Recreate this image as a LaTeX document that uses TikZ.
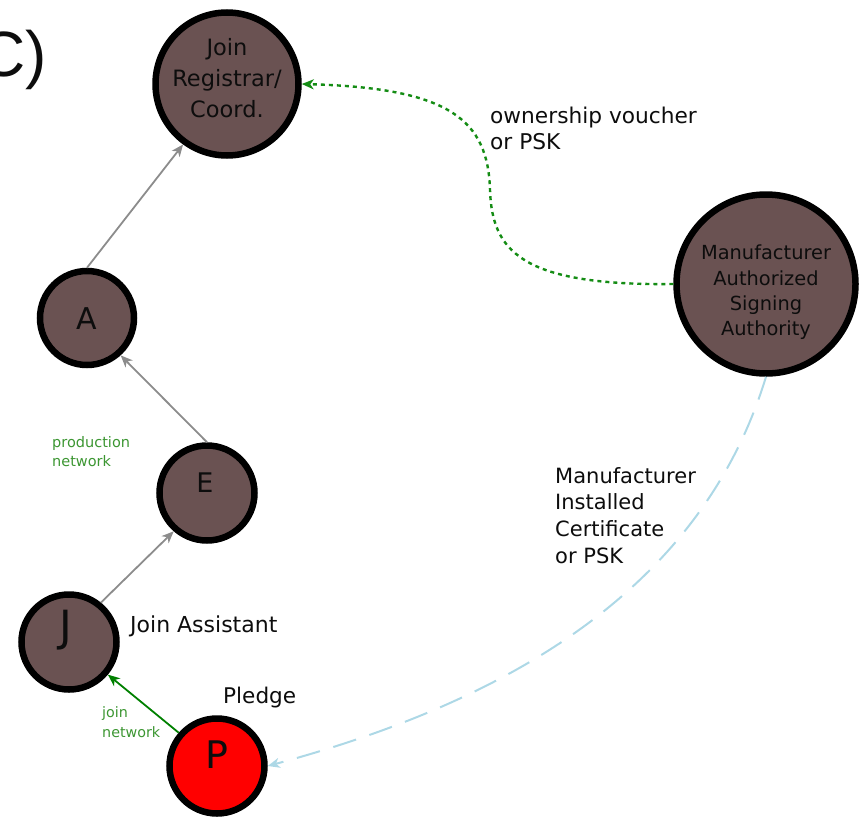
\documentclass[tikz,border=0pt]{standalone}
\usepackage{fontspec}
\setmainfont{DejaVu Sans}
\newfontfamily\arialf{Liberation Sans}
\usetikzlibrary{arrows.meta}
\definecolor{nodebrown}{RGB}{106,82,82}
\definecolor{edgegray}{RGB}{140,140,140}
\definecolor{joingreen}{RGB}{0,128,0}
\definecolor{labgreen}{RGB}{60,150,50}
\definecolor{dotgreen}{RGB}{20,140,20}
\definecolor{certblue}{RGB}{173,216,230}
\tikzset{
  dev/.style={circle, draw=black, line width=6.5pt, fill=nodebrown, inner sep=0pt, minimum size=#1},
  txt/.style={inner sep=0pt, text=black!95},
  tip/.style={-{Stealth[length=12pt,width=10pt,inset=3.5pt]}},
  grayedge/.style={tip, draw=edgegray, line width=1.8pt},
}
\begin{document}
\begin{tikzpicture}[x=1pt,y=-1pt]
\useasboundingbox (0,0) rectangle (861,816);
% circles
\node[dev=143pt] (jr) at (227,84) {};
\node[dev=94pt] (a) at (87,318) {};
\node[dev=95pt] (e) at (207,493) {};
\node[dev=95pt] (j) at (69,642) {};
\node[dev=95pt, fill=red] (p) at (217,766) {};
\node[dev=179pt] (masa) at (766,284) {};
% circle texts
\node[txt, anchor=north, align=center, font=\fontsize{22.5}{31}\selectfont] (jrt) at (227,38) {Join\\Registrar/\\Coord.};
\node[txt, anchor=north, align=center, font=\fontsize{19.4}{25.3}\selectfont] (masat) at (766,245) {Manufacturer\\Authorized\\Signing\\Authority};
\node[txt, anchor=base, font=\fontsize{30}{36}\selectfont] (at) at (87,329) {A};
\node[txt, anchor=base, font=\fontsize{27}{32}\selectfont] (et) at (205,492) {E};
\node[txt, anchor=base, font=\fontsize{43}{50}\selectfont] (jt) at (66,641) {J};
\node[txt, anchor=base, font=\fontsize{38}{45}\selectfont] (pt) at (217,768) {P};
% labels
\node[txt, anchor=base east, font=\arialf\fontsize{64}{70}\selectfont] (c) at (47,76) {C)};
\node[txt, anchor=north west, align=left, font=\fontsize{21.7}{26}\selectfont] (ov) at (490,106.5) {ownership voucher\\or PSK};
\node[txt, anchor=north west, align=left, font=\fontsize{21}{26.7}\selectfont] (mic) at (555,467) {Manufacturer\\Installed\\Certificate\\or PSK};
\node[txt, anchor=base west, font=\fontsize{22}{26}\selectfont] (ja) at (130,632) {Join Assistant};
\node[txt, anchor=base west, font=\fontsize{21.6}{26}\selectfont] (pl) at (223,703) {Pledge};
\node[inner sep=0pt, text=labgreen, anchor=north west, align=left, font=\fontsize{14.5}{19}\selectfont] (pn) at (52,436) {production\\network};
\node[inner sep=0pt, text=labgreen, anchor=north west, align=left, font=\fontsize{14.3}{20}\selectfont] (jn) at (102,706) {join\\network};
% edges
\draw[grayedge] (a.north) -- (jr.234);
\draw[grayedge] (e.north) -- (a.312);
\draw[grayedge] (j.51) -- (e.229);
\draw[tip, draw=joingreen, line width=1.8pt] (p.139) -- (j.320);
\draw[tip, draw=dotgreen, line width=2.4pt, dash pattern=on 4pt off 4pt]
  (masa.west) .. controls (520,286) and (492,250) .. (490,190)
  .. controls (488,120) and (450,88) .. (jr.east);
\draw[tip, draw=certblue, line width=2pt, dash pattern=on 24pt off 14pt]
  (masa.south) .. controls (698,600) and (490,706) .. (p.east);
\end{tikzpicture}
\end{document}
